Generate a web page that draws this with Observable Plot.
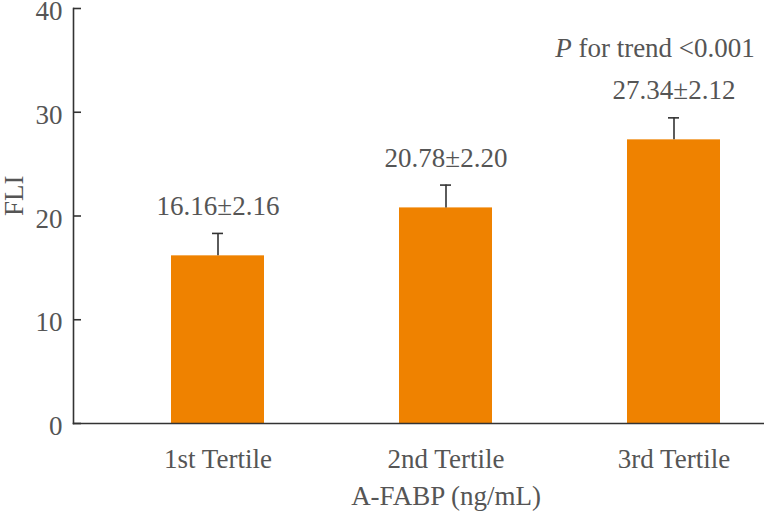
<!DOCTYPE html>
<html>
<head>
<meta charset="utf-8">
<script src="https://cdn.jsdelivr.net/npm/d3@7"></script>
<script src="https://cdn.jsdelivr.net/npm/@observablehq/plot@0.6"></script>
<style>
  html, body { margin: 0; padding: 0; background: #fff; overflow: hidden; }
  #chart svg { overflow: hidden; }
  #chart svg, #chart svg text, #chart svg g { font-family: "Liberation Serif", "Times New Roman", serif !important; }
</style>
</head>
<body>
<div id="chart"></div>
<script>
const categories = ["1st Tertile", "2nd Tertile", "3rd Tertile"];
const means = [16.16, 20.78, 27.34];
const sds = [2.16, 2.20, 2.12];
const yTicks = [0, 10, 20, 30, 40];
const trendText = "P for trend <0.001";

const data = categories.map((c, i) => ({cat: c, mean: means[i], sd: sds[i]}));

const FONT = "Liberation Serif";
const TXT = "#555";
const AX = "#333";
const FS = 27;

const chart = Plot.plot({
  width: 764,
  height: 521,
  marginLeft: 73,
  marginRight: -54,
  marginTop: 8,
  marginBottom: 98,
  style: {fontFamily: FONT, fontSize: FS + "px", color: TXT, background: "#fff"},
  x: {domain: categories, paddingInner: 0.594, paddingOuter: 0.424},
  y: {domain: [0, 40]},
  marks: [
    Plot.barY(data, {x: "cat", y: "mean", fill: "#EF8200"}),
    Plot.ruleX(data, {x: "cat", y1: "mean", y2: d => d.mean + d.sd, stroke: AX, strokeWidth: 1.6}),
    Plot.tickY(data, {x: "cat", y: d => d.mean + d.sd, stroke: AX, strokeWidth: 1.6, insetLeft: 41, insetRight: 41}),
    Plot.text(data, {x: "cat", y: d => d.mean + d.sd, text: d => `${d.mean.toFixed(2)}±${d.sd.toFixed(2)}`, dy: -27, fill: TXT, fontSize: FS, fontFamily: FONT}),
    Plot.text([data[2]], {x: "cat", y: d => d.mean + d.sd, text: () => trendText, dy: -69, dx: -19, fill: TXT, fontSize: FS, fontFamily: FONT}),
    Plot.frame({anchor: "left", stroke: AX, strokeWidth: 1.6}),
    Plot.frame({anchor: "bottom", stroke: AX, strokeWidth: 1.6}),
    Plot.axisY(yTicks, {anchor: "left", tickSize: -8, tickPadding: 19, stroke: AX, strokeWidth: 1.6, label: null, fontSize: FS, fontFamily: FONT}),
    Plot.axisY(yTicks, {anchor: "left", tickSize: 0, tickPadding: 11, dy: 3, fill: TXT, label: null, fontSize: FS, fontFamily: FONT}),
    Plot.axisX({anchor: "bottom", tickSize: 0, tickPadding: 25, fill: TXT, label: null, fontSize: FS, fontFamily: FONT}),
    Plot.text(["A-FABP (ng/mL)"], {frameAnchor: "bottom", dy: 81, fill: TXT, fontSize: FS, fontFamily: FONT}),
    Plot.text(["FLI"], {frameAnchor: "left", dx: -59, rotate: -90, fill: TXT, fontSize: FS, fontFamily: FONT})
  ]
});
document.getElementById("chart").appendChild(chart);

// remove labels of the tick-only axis (first axisY) so ticks and labels can be offset independently
const yAxes = chart.querySelectorAll("g[aria-label='y-axis tick label']");
if (yAxes.length > 1) yAxes[0].remove();

// italicize the leading "P"
chart.querySelectorAll("text").forEach(t => {
  if (t.textContent === trendText) {
    const tsp = t.querySelector("tspan") || t;
    tsp.textContent = "";
    const ns = "http://www.w3.org/2000/svg";
    const a = document.createElementNS(ns, "tspan");
    a.setAttribute("font-style", "italic");
    a.textContent = "P";
    const b = document.createElementNS(ns, "tspan");
    b.textContent = trendText.slice(1);
    tsp.appendChild(a);
    tsp.appendChild(b);
  }
});
</script>
</body>
</html>
